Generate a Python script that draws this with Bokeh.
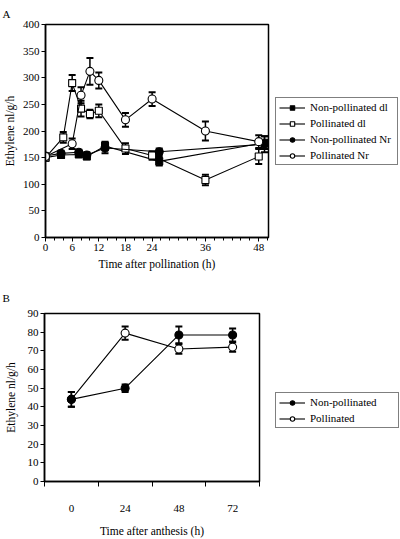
from bokeh.plotting import figure
from bokeh.models import (Range1d, FixedTicker, Legend, LegendItem, Whisker, TeeHead,
                          ColumnDataSource, Title)
from bokeh.layouts import column, row
from bokeh.embed import file_html
from bokeh.resources import INLINE

FONT = "Liberation Serif"
NAN = float("nan")

# ---------------- Panel A data ----------------
T_POLL_DL = [0, 4, 6, 8, 10, 12, 18, 24, 36, 48]
Y_POLL_DL = [150, 188, 290, 242, 232, 238, 167, 154, 108, 152]
E_POLL_DL = [5, 10, 15, 15, 8, 12, 10, 8, 10, 14]

T_POLL_NR = [0, 6, 8, 10, 12, 18, 24, 36, 48]
Y_POLL_NR = [152, 176, 267, 312, 295, 221, 260, 200, 180]
E_POLL_NR = [5, 10, 15, 25, 15, 13, 13, 18, 12]

T_NP_DL = [0, 3.5, 7.5, 9.3, 13.4, 25.6, 49.3]
Y_NP_DL = [150, 155, 156, 152, 172, 143, 178]
E_NP_DL = [5, 5, 5, 5, 8, 8, 12]

T_NP_NR = [0, 3.5, 7.5, 9.3, 13.4, 25.6, 49.3]
Y_NP_NR = [153, 158, 160, 155, 168, 161, 175]
E_NP_NR = [5, 5, 5, 5, 10, 6, 15]

XTICKS_A = [0, 6, 12, 18, 24, 36, 48]
XMINOR_A = [0, 2, 4, 6, 8, 10, 12, 14, 16, 18, 20, 22, 24, 26, 28, 30, 32, 34, 36, 38, 40, 42, 44, 46, 48, 50]
YTICKS_A = [0, 50, 100, 150, 200, 250, 300, 350, 400]

LABELS_A = ["Non-pollinated dl", "Pollinated dl", "Non-pollinated Nr", "Pollinated Nr"]
MARKERS_A = [("square", True), ("square", False), ("circle", True), ("circle", False)]

# ---------------- Panel B data ----------------
TIMES_B = [0, 24, 48, 72]
Y_NP_B = [44, 50, 78.5, 78.5]
E_NP_B = [4, 2, 4.5, 3.5]
Y_P_B = [44, 79.5, 71, 72]
E_P_B = [4, 3.5, 2.5, 2.5]
YTICKS_B = [0, 10, 20, 30, 40, 50, 60, 70, 80, 90]
LABELS_B = ["Non-pollinated", "Pollinated"]
MARKERS_B = [("circle", True), ("circle", False)]


def style_axes(p):
    for ax in (p.xaxis + p.yaxis):
        ax.axis_line_width = 1.5
        ax.axis_line_color = "black"
        ax.major_tick_line_color = "black"
        ax.minor_tick_line_color = "black"
        ax.major_tick_in = 0
        ax.minor_tick_in = 0
        ax.major_label_text_font = FONT
        ax.major_label_text_font_size = "11px"
        ax.major_label_text_color = "black"
        ax.axis_label_text_font = FONT
        ax.axis_label_text_font_size = "11.5px"
        ax.axis_label_text_font_style = "normal"
        ax.axis_label_text_color = "black"
    p.xgrid.visible = False
    p.ygrid.visible = False
    p.outline_line_color = "black"
    p.outline_line_width = 1.5
    p.outline_line_alpha = 1.0
    p.background_fill_color = "white"
    p.border_fill_color = "white"


def add_series(p, t, y, e, marker, filled, size):
    src = ColumnDataSource(dict(x=t, y=y,
                                upper=[a + b for a, b in zip(y, e)],
                                lower=[a - b for a, b in zip(y, e)]))
    w = Whisker(source=src, base="x", upper="upper", lower="lower",
                line_color="black", line_width=1.5,
                upper_head=TeeHead(size=7, line_color="black", line_width=2),
                lower_head=TeeHead(size=7, line_color="black", line_width=2))
    p.add_layout(w)
    p.line("x", "y", source=src, line_color="black", line_width=1.1)
    p.scatter("x", "y", source=src, marker=marker, size=size,
              fill_color="black" if filled else "white",
              line_color="black", line_width=1.1)


def legend_figure(width, height, labels, markers, loc, label_width):
    lf = figure(width=width, height=height, output_backend="svg", toolbar_location=None,
                x_range=Range1d(0, 1), y_range=Range1d(0, 1),
                x_axis_type=None, y_axis_type=None,
                min_border=0, min_border_left=0, min_border_right=0,
                min_border_top=0, min_border_bottom=0)
    lf.xgrid.visible = False
    lf.ygrid.visible = False
    lf.outline_line_color = None
    lf.background_fill_color = "white"
    lf.border_fill_color = "white"
    items = []
    for lab, (mk, filled) in zip(labels, markers):
        lr = lf.line([NAN, NAN], [NAN, NAN], line_color="black", line_width=1.1)
        sr = lf.scatter([NAN], [NAN], marker=mk, size=8 if mk == "circle" else 7,
                        fill_color="black" if filled else "white",
                        line_color="black", line_width=1.1)
        items.append(LegendItem(label=lab, renderers=[lr, sr]))
    leg = Legend(items=items, location=loc)
    leg.label_text_font = FONT
    leg.label_text_font_size = "11px"
    leg.label_text_color = "black"
    leg.glyph_width = 26
    leg.glyph_height = 11
    leg.label_height = 11
    leg.label_width = label_width
    leg.spacing = 4
    leg.padding = 3
    leg.margin = 0
    leg.label_standoff = 5
    leg.border_line_color = "black"
    leg.border_line_width = 1
    leg.background_fill_color = "white"
    leg.background_fill_alpha = 1.0
    lf.add_layout(leg)
    return lf


def panel_label(p, text, offset, standoff):
    p.add_layout(Title(text=text, align="left", offset=offset, standoff=standoff,
                       text_font=FONT, text_font_size="11px",
                       text_font_style="normal", text_color="black"), "above")


# ---------------- Figure A ----------------
pA = figure(width=270, height=280, output_backend="svg", toolbar_location=None,
            x_range=Range1d(0, 50.2), y_range=Range1d(0, 400),
            min_border_left=45, min_border_right=2, min_border_top=24,
            min_border_bottom=43)
style_axes(pA)
pA.xaxis.ticker = FixedTicker(ticks=XTICKS_A, minor_ticks=XMINOR_A)
pA.yaxis.ticker = FixedTicker(ticks=YTICKS_A, minor_ticks=[])
pA.xaxis.major_tick_out = 4
pA.xaxis.minor_tick_out = 3
pA.yaxis.major_tick_out = 4
pA.yaxis.minor_tick_out = 0
pA.xaxis.major_label_standoff = 2
pA.yaxis.major_label_standoff = 2
pA.xaxis.axis_label_standoff = 4
pA.yaxis.axis_label_standoff = 4
pA.xaxis.axis_label = "Time after pollination (h)"
pA.yaxis.axis_label = "Ethylene nl/g/h"

add_series(pA, T_NP_DL, Y_NP_DL, E_NP_DL, "square", True, 7)
add_series(pA, T_POLL_DL, Y_POLL_DL, E_POLL_DL, "square", False, 7)
add_series(pA, T_NP_NR, Y_NP_NR, E_NP_NR, "circle", True, 8)
add_series(pA, T_POLL_NR, Y_POLL_NR, E_POLL_NR, "circle", False, 8)
panel_label(pA, "A", -43, 10)

legA = legend_figure(130, 280, LABELS_A, MARKERS_A, (5, 72), 84)

# ---------------- Figure B ----------------
XB = [TIMES_B.index(t) for t in TIMES_B]

pB = figure(width=261, height=259, output_backend="svg", toolbar_location=None,
            x_range=Range1d(-0.5, len(TIMES_B) - 0.5), y_range=Range1d(0, 90),
            min_border_left=44, min_border_right=2, min_border_top=33,
            min_border_bottom=55)
style_axes(pB)
pB.xaxis.ticker = FixedTicker(ticks=XB, minor_ticks=[i - 0.5 for i in XB] + [XB[-1] + 0.5])
pB.xaxis.major_label_overrides = {i: str(t) for i, t in zip(XB, TIMES_B)}
pB.xaxis.major_tick_out = 0
pB.xaxis.major_tick_line_color = None
pB.xaxis.minor_tick_out = 5
pB.xaxis.major_label_standoff = 18
pB.xaxis.axis_label_standoff = 10
pB.yaxis.ticker = FixedTicker(ticks=YTICKS_B, minor_ticks=[])
pB.yaxis.major_tick_out = 4
pB.yaxis.minor_tick_out = 0
pB.yaxis.major_label_standoff = 2
pB.yaxis.axis_label_standoff = 8
pB.xaxis.axis_label = "Time after anthesis (h)"
pB.yaxis.axis_label = "Ethylene nl/g/h"

add_series(pB, XB, Y_P_B, E_P_B, "circle", False, 8)
add_series(pB, XB, Y_NP_B, E_NP_B, "circle", True, 8)
panel_label(pB, "B", -42, 19)

legB = legend_figure(139, 259, LABELS_B, MARKERS_B, (14, 53), 85)

layout = column(row(pA, legA), row(pB, legB))
open("out.html", "w").write(file_html(layout, INLINE))
